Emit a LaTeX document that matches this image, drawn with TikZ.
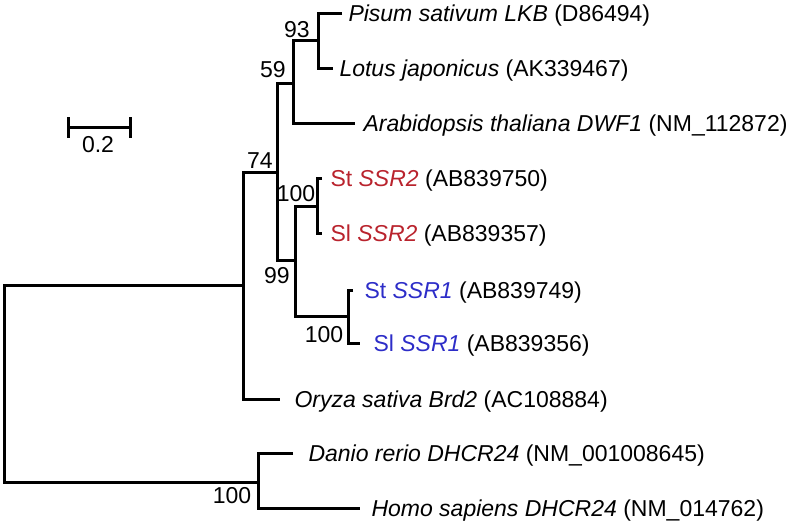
\documentclass[tikz,border=0pt]{standalone}
\usepackage{fontspec}
\setmainfont{Liberation Sans}
\definecolor{ssrtwo}{RGB}{185,35,45}
\definecolor{ssrone}{RGB}{45,45,200}

\begin{document}
\begin{tikzpicture}[x=0.5pt,y=-0.5pt,line width=1.5pt,
  every node/.style={font=\fontsize{11.5}{13}\selectfont,inner sep=0pt},
  leaf/.style={anchor=base west,yshift=-4pt}]
\useasboundingbox (0,0) rectangle (793,521);

% internal nodes
\coordinate (r) at (4,383);
\coordinate (A) at (243,285);
\coordinate (B) at (277,172);
\coordinate (C) at (293,83);
\coordinate (D) at (318,40);
\coordinate (E) at (295,260);
\coordinate (F) at (317,206);
\coordinate (G) at (348,316);
\coordinate (H) at (258,482);

% tips
\coordinate (tPis) at (342,13);
\coordinate (tLot) at (333,68);
\coordinate (tAra) at (355,123);
\coordinate (tSt2) at (322,178);
\coordinate (tSl2) at (322,233);
\coordinate (tSt1) at (353,290);
\coordinate (tSl1) at (360,343);
\coordinate (tOry) at (280,399);
\coordinate (tDan) at (293,453);
\coordinate (tHom) at (360,508);

\draw (A) -| (r) |- (H);
\draw (B) -| (A) |- (tOry);
\draw (C) -| (B) |- (E);
\draw (D) -| (C) |- (tAra);
\draw (tPis) -| (D) |- (tLot);
\draw (F) -| (E) |- (G);
\draw (tSt2) -| (F) |- (tSl2);
\draw (tSt1) -| (G) |- (tSl1);
\draw (tDan) -| (H) |- (tHom);

\node[leaf] (lPis) at (347,13) {\textit{Pisum sativum LKB} (D86494)};
\node[leaf] (lLot) at (338,68) {\textit{Lotus japonicus} (AK339467)};
\node[leaf] (lAra) at (362,123) {\textit{Arabidopsis thaliana DWF1} (NM\_112872)};
\node[leaf] (lSt2) at (329,178) {\textcolor{ssrtwo}{St \textit{SSR2}} (AB839750)};
\node[leaf] (lSl2) at (329,233) {\textcolor{ssrtwo}{Sl \textit{SSR2}} (AB839357)};
\node[leaf] (lSt1) at (363,290) {\textcolor{ssrone}{St \textit{SSR1}} (AB839749)};
\node[leaf] (lSl1) at (372,343) {\textcolor{ssrone}{Sl \textit{SSR1}} (AB839356)};
\node[leaf] (lOry) at (293,399) {\textit{Oryza sativa Brd2} (AC108884)};
\node[leaf] (lDan) at (307,453) {\textit{Danio rerio DHCR24} (NM\_001008645)};
\node[leaf] (lHom) at (370,508) {\textit{Homo sapiens DHCR24} (NM\_014762)};

% bootstrap values
\node (b93) at (297,30) {93};
\node (b59) at (273,70) {59};
\node (b74) at (260,161) {74};
\node (b100a) at (296,194) {100};
\node (b99) at (277,276) {99};
\node (b100b) at (324,335) {100};
\node (b100c) at (232,496) {100};

% scale bar
\coordinate (s1) at (68,127);
\coordinate (s2) at (130,127);
\draw ([yshift=5pt]s1) -- ([yshift=-5.5pt]s1) (s1) -- (s2) ([yshift=5pt]s2) -- ([yshift=-5.5pt]s2);
\node (sl) at (98,145) {0.2};
\end{tikzpicture}
\end{document}
